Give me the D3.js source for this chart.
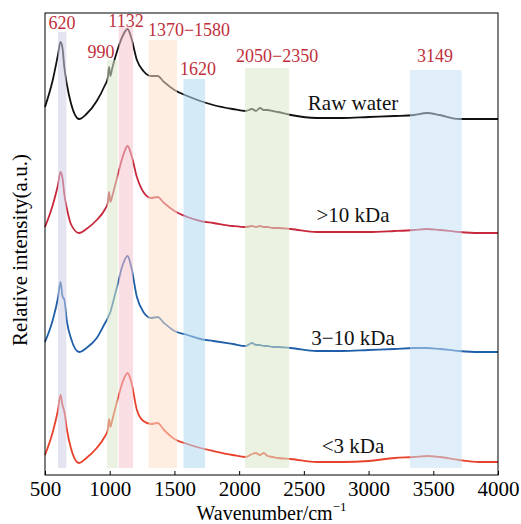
<!DOCTYPE html>
<meta charset="utf-8" />
<title>Raman spectra</title>
<style>
  body { margin: 0; background: #fff; }
  svg text { font-family: "Liberation Serif", "DejaVu Serif", "Times New Roman", Times, serif; }
  .line { fill: none; stroke-width: 1.8px; stroke-linejoin: round; }
  .axis path, .axis line { stroke: #000; }
</style>
<body>
<script src="https://cdn.jsdelivr.net/npm/d3@7"></script>
<script>
  // wavenumbers shared by every spectrum (cm-1)
  var wavenumbers = [500, 560, 600, 620, 635, 650, 670, 700, 763, 820, 900, 960, 985, 995, 1005, 1020,
    1060, 1100, 1138, 1165, 1210, 1260, 1320, 1370, 1420, 1500, 1600, 1700, 1800, 1950, 2050,
    2100, 2130, 2160, 2190, 2220, 2260, 2300, 2400, 2600, 2800, 3000, 3200, 3350, 3450, 3550,
    3700, 3850, 4000];

  // stacked intensities (a.u.), offsets already included
  var rawWater = [368, 395, 420, 433, 427, 407, 390, 372, 356, 361, 374, 389, 397, 408, 399, 407,
    425, 439, 446, 438, 415, 404, 399, 399, 393, 385, 379, 374, 370, 366, 364,
    366, 364, 367, 365, 365, 364, 363, 360, 357, 357, 358, 359, 360, 362, 360,
    356, 356, 356];
  var above10 = [248, 270, 290, 303, 297, 280, 266, 251, 242, 246, 255, 265, 272, 283, 273, 279,
    299, 318, 329, 321, 298, 283, 277, 278, 272, 264, 258, 254, 252, 249, 248,
    249, 248, 249, 248, 248, 247, 247, 246, 243, 243, 243, 244, 245, 246, 245,
    243, 242, 242];
  var from3to10 = [133, 155, 177, 193, 179, 175, 153, 137, 123, 127, 137, 151, 157, 160, 163, 170,
    190, 210, 219, 209, 178, 163, 157, 158, 152, 144, 140, 136, 134, 131, 129,
    132, 130, 130, 129, 129, 128, 128, 127, 124, 124, 125, 126, 127, 127, 126,
    124, 123, 123];
  var below3 = [20, 43, 65, 80, 70, 63, 45, 27, 12, 17, 27, 38, 45, 56, 48, 55,
    75, 93, 102, 94, 65, 54, 51, 52, 45, 36, 31, 27, 24, 20, 18,
    21, 22, 20, 22, 19, 18, 17, 16, 13, 13, 14, 17, 18, 19, 18,
    15, 13, 13];

  var seriesNames = ["Raw water", ">10 kDa", "3\u221210 kDa", "<3 kDa"];
  var seriesColors = ["#111111", "#c8283c", "#1f5ea8", "#e8422c"];
  var labelLevels = [365, 253, 130, 22];

  // highlighted bands (cm-1) and where their labels sit
  var bandLabels = ["620", "990", "1132", "1370\u22121580", "1620", "2050\u22122350", "3149"];
  var bandLo = [600, 980, 1070, 1300, 1570, 2045, 3320];
  var bandHi = [665, 1062, 1180, 1520, 1737, 2387, 3720];
  var bandTop = [443, 415, 448, 435, 396, 407, 405];
  var bandLabelAt = [631, 933, 1126, 1613, 1682, 2293, 3513];
  var bandLabelLevel = [446, 417, 448, 439, 400, 413, 413];
  var bandColors = ["#cdcde6", "#dbe8c8", "#f4c3cc", "#fbe0c8", "#b3d8f0", "#dbe8c8", "#c4e0f4"];

  var width = 521,
    height = 524,
    margin = { top: 13, right: 23, bottom: 49, left: 45 };

  var x = d3.scaleLinear().domain([500, 4000]).range([margin.left, width - margin.right]);
  var y = d3.scaleLinear().domain([0, 462]).range([height - margin.bottom, margin.top]);

  var svg = d3.select("body").append("svg")
    .attr("width", width)
    .attr("height", height);

  var line = d3.line()
    .x(function (d, i) { return x(wavenumbers[i]); })
    .y(function (d) { return y(d); })
    .curve(d3.curveMonotoneX);

  var series = [rawWater, above10, from3to10, below3];

  svg.selectAll(".line")
    .data(series)
    .enter().append("path")
    .attr("class", "line")
    .attr("stroke", function (d, i) { return seriesColors[i]; })
    .attr("d", line);

  // bands sit on top of the spectra so the lines show through faded
  var bandBottom = 7;
  svg.selectAll(".band")
    .data(bandLabels)
    .enter().append("rect")
    .attr("class", "band")
    .attr("x", function (d, i) { return x(bandLo[i]); })
    .attr("width", function (d, i) { return x(bandHi[i]) - x(bandLo[i]); })
    .attr("y", function (d, i) { return y(bandTop[i]); })
    .attr("height", function (d, i) { return y(bandBottom) - y(bandTop[i]); })
    .attr("fill", function (d, i) { return bandColors[i]; })
    .attr("fill-opacity", 0.55);

  svg.selectAll(".band-label")
    .data(bandLabels)
    .enter().append("text")
    .attr("class", "band-label")
    .attr("x", function (d, i) { return x(bandLabelAt[i]); })
    .attr("y", function (d, i) { return y(bandLabelLevel[i]); })
    .attr("text-anchor", "middle")
    .attr("fill", "#c0303c")
    .style("font-size", "18px")
    .text(function (d) { return d; });

  svg.selectAll(".series-label")
    .data(seriesNames)
    .enter().append("text")
    .attr("class", "series-label")
    .attr("x", x(2880))
    .attr("y", function (d, i) { return y(labelLevels[i]); })
    .attr("text-anchor", "middle")
    .attr("fill", "#111")
    .style("font-size", "21px")
    .text(function (d) { return d; });

  // frame
  svg.append("rect")
    .attr("x", margin.left)
    .attr("y", margin.top)
    .attr("width", width - margin.left - margin.right)
    .attr("height", height - margin.top - margin.bottom)
    .attr("fill", "none")
    .attr("stroke", "#000")
    .attr("stroke-width", 1);

  var xAxis = svg.append("g")
    .attr("class", "axis")
    .attr("transform", "translate(0," + (height - margin.bottom) + ")")
    .call(d3.axisBottom(x)
      .tickValues(d3.range(500, 4001, 500))
      .tickFormat(d3.format("d"))
      .tickSizeInner(-4).tickSizeOuter(0).tickPadding(6));
  xAxis.attr("font-family", null);
  xAxis.select(".domain").remove();
  xAxis.selectAll("text")
    .attr("fill", "#000")
    .style("font-size", "21px");

  var xTitle = svg.append("text")
    .attr("x", (margin.left + width - margin.right) / 2)
    .attr("y", 520)
    .attr("text-anchor", "middle")
    .style("font-size", "20px")
    .text("Wavenumber/cm");
  xTitle.append("tspan")
    .attr("dy", -9)
    .style("font-size", "13px")
    .text("\u22121");

  svg.append("text")
    .attr("transform", "translate(27,250) rotate(-90)")
    .attr("text-anchor", "middle")
    .style("font-size", "21px")
    .text("Relative intensity(a.u.)");
</script>
</body>
